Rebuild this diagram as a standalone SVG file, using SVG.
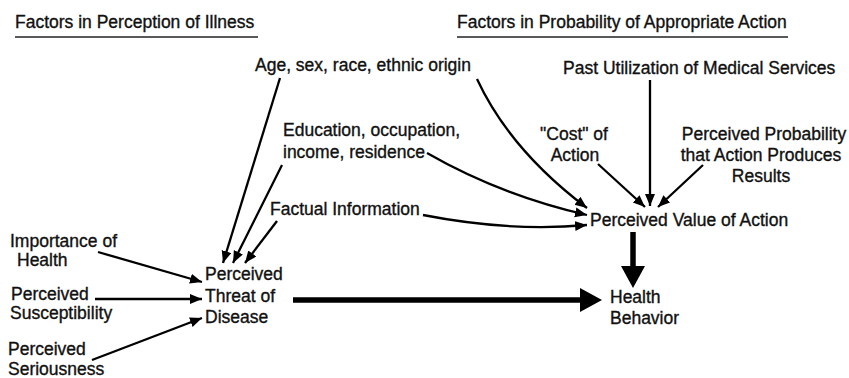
<svg xmlns="http://www.w3.org/2000/svg" width="849" height="378" viewBox="0 0 849 378">
<style>
text{font-family:"Liberation Sans",Arial,sans-serif;font-size:17.5px;fill:#111;stroke:#111;stroke-width:0.35}
.c{stroke:#000;stroke-width:2.3;fill:none}
.t{stroke:#000;stroke-width:5.5;fill:none}
.u{stroke:#222;stroke-width:1.6}
.m{text-anchor:middle}
</style>
<defs>
<marker id="a" markerUnits="userSpaceOnUse" markerWidth="13" markerHeight="11" refX="12" refY="5" orient="auto"><path d="M0,0 L12,5 L0,10 z" fill="#000"/></marker>
<marker id="b" markerUnits="userSpaceOnUse" markerWidth="24" markerHeight="26" refX="5" refY="12" orient="auto"><path d="M0,0 L22,12 L0,24 z" fill="#000"/></marker>
</defs>
<rect width="849" height="378" fill="#fff"/>
<g id="title-left"><text x="15" y="28">Factors in Perception of Illness</text><line class="u" x1="15" y1="37" x2="258" y2="37"/></g>
<g id="title-right"><text x="457" y="28">Factors in Probability of Appropriate Action</text><line class="u" x1="457" y1="37" x2="788" y2="37"/></g>
<g id="age"><text x="255" y="71">Age, sex, race, ethnic origin</text></g>
<g id="past"><text x="563" y="74">Past Utilization of Medical Services</text></g>
<g id="education"><text x="283" y="136">Education, occupation,</text><text x="283" y="158">income, residence</text></g>
<g id="cost"><text class="m" x="574" y="140">"Cost" of</text><text class="m" x="575" y="161">Action</text></g>
<g id="probability"><text class="m" x="764" y="140">Perceived Probability</text><text class="m" x="761" y="161">that Action Produces</text><text class="m" x="761" y="182">Results</text></g>
<g id="factual"><text x="270" y="215">Factual Information</text></g>
<g id="value"><text x="590" y="226">Perceived Value of Action</text></g>
<g id="importance"><text x="10" y="247">Importance of</text><text x="17" y="266">Health</text></g>
<g id="susceptibility"><text x="11" y="300">Perceived</text><text x="10" y="319">Susceptibility</text></g>
<g id="seriousness"><text x="8" y="355">Perceived</text><text x="8" y="375">Seriousness</text></g>
<g id="threat"><text x="205" y="280">Perceived</text><text x="205" y="302">Threat of</text><text x="205" y="323">Disease</text></g>
<g id="behavior"><text x="610" y="303">Health</text><text x="610" y="324">Behavior</text></g>
<g id="connectors">
<line class="c" x1="280" y1="78" x2="223" y2="263" marker-end="url(#a)"/>
<line class="c" x1="282" y1="165" x2="233" y2="263" marker-end="url(#a)"/>
<line class="c" x1="277" y1="221" x2="245" y2="263" marker-end="url(#a)"/>
<line class="c" x1="98" y1="252" x2="202" y2="282" marker-end="url(#a)"/>
<line class="c" x1="95" y1="299" x2="202" y2="299" marker-end="url(#a)"/>
<line class="c" x1="92" y1="360" x2="202" y2="318" marker-end="url(#a)"/>
<path class="c" d="M477,79 Q510,150 587,208" marker-end="url(#a)"/>
<path class="c" d="M427,153 Q500,195 587,215" marker-end="url(#a)"/>
<path class="c" d="M423,215 Q510,232 587,225" marker-end="url(#a)"/>
<line class="c" x1="598" y1="164" x2="645" y2="207" marker-end="url(#a)"/>
<line class="c" x1="650" y1="80" x2="650" y2="206" marker-end="url(#a)"/>
<line class="c" x1="703" y1="165" x2="658" y2="207" marker-end="url(#a)"/>
<line class="t" x1="293" y1="300" x2="585" y2="300" marker-end="url(#b)"/>
<line class="t" x1="633" y1="232" x2="633" y2="271" marker-end="url(#b)"/>
</g>
</svg>
